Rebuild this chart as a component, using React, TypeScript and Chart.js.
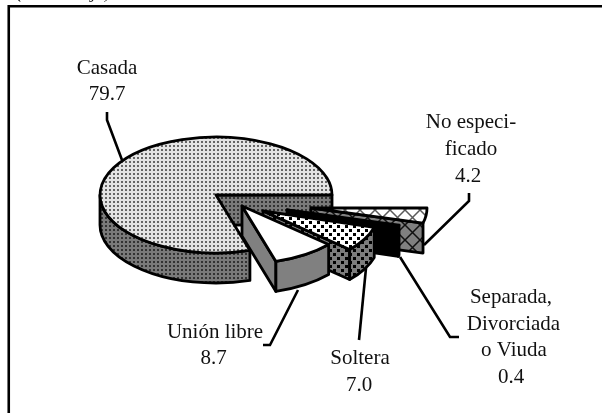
import React, { useEffect, useRef } from "react";
import { Chart, registerables } from "chart.js";

Chart.register(...registerables);

const categories = ["Casada", "No especificado", "Separada, Divorciada o Viuda", "Soltera", "Unión libre"];
const values = [79.7, 4.2, 0.4, 7.0, 8.7];
const valueLabels = ["79.7", "4.2", "0.4", "7.0", "8.7"];
const labelLines = [["Casada"], ["No especi-", "ficado"], ["Separada,", "Divorciada", "o Viuda"], ["Soltera"], ["Unión libre"]];

// layout of the drawing, in canvas pixels
const labelCentres = [[107, 107], [471, 471, 468], [511, 513.5, 514, 511], [360, 359], [215, 213.5]];
const labelBaselines = [74, 128, 303, 364, 338];
const labelLeading = [26, 27, 26.6, 27, 26];
const leaders = [
  [[107, 112], [107, 120], [122, 160]],
  [[469, 193], [469, 201], [424, 245]],
  [[400, 257], [450, 337], [459, 337]],
  [[366, 268], [359, 340]],
  [[298, 290], [270, 345], [263, 345]],
];
const explodeX = [0, 95, 71, 47, 26];
const explodeY = [0, 13, 15, 16, 11];
const TILT = 0.5;
const DEPTH = 30;
const RADIUS = 116;

type Tile = (c: CanvasRenderingContext2D) => void;

function tile(ctx: CanvasRenderingContext2D, w: number, h: number, draw: Tile) {
  const off = document.createElement("canvas");
  off.width = w;
  off.height = h;
  draw(off.getContext("2d")!);
  return ctx.createPattern(off, "repeat")!;
}

function dots(c: CanvasRenderingContext2D, w: number, h: number, bg: string, fg: string, pts: number[][], s: number) {
  c.fillStyle = bg;
  c.fillRect(0, 0, w, h);
  c.fillStyle = fg;
  pts.forEach(([x, y]) => c.fillRect(x, y, s, s));
}

function hatch(c: CanvasRenderingContext2D, n: number, bg: string, fg: string, lw: number) {
  c.fillStyle = bg;
  c.fillRect(0, 0, n, n);
  c.strokeStyle = fg;
  c.lineWidth = lw;
  c.beginPath();
  c.moveTo(-2, -2);
  c.lineTo(n + 2, n + 2);
  c.moveTo(n + 2, -2);
  c.lineTo(-2, n + 2);
  c.stroke();
}

function surfaces(ctx: CanvasRenderingContext2D) {
  const casadaTop = tile(ctx, 4, 4, (c) => dots(c, 4, 4, "#e4e4e4", "#666666", [[1, 1]], 2));
  const casadaSide = tile(ctx, 4, 4, (c) => dots(c, 4, 4, "#7a7a7a", "#333333", [[1, 1]], 2));
  const solteraTop = tile(ctx, 8, 8, (c) => dots(c, 8, 8, "#ffffff", "#000000", [[1, 1], [5, 5]], 3));
  const solteraSide = tile(ctx, 8, 8, (c) => dots(c, 8, 8, "#7c7c7c", "#000000", [[1, 1], [5, 5]], 3));
  const otroTop = tile(ctx, 15, 15, (c) => hatch(c, 15, "#ffffff", "#5a5a5a", 1.5));
  const otroSide = tile(ctx, 15, 15, (c) => hatch(c, 15, "#808080", "#111111", 1.5));
  return {
    top: [casadaTop, otroTop, "#000000", solteraTop, "#ffffff"],
    side: [casadaSide, otroSide, "#000000", solteraSide, "#808080"],
  };
}

const tiltedPie = {
  id: "tiltedPie",
  beforeDatasetsDraw(chart: Chart) {
    const ctx = chart.ctx;
    const fills = surfaces(ctx);
    const arcs = chart.getDatasetMeta(0).data as any[];
    ctx.save();
    ctx.strokeStyle = "#000000";
    ctx.lineWidth = 2.8;
    ctx.lineJoin = "round";
    arcs.forEach((arc, i) => {
      let a0 = arc.startAngle as number;
      let a1 = arc.endAngle as number;
      while (a0 >= 2 * Math.PI - 1e-6) {
        a0 -= 2 * Math.PI;
        a1 -= 2 * Math.PI;
      }
      const rx = arc.outerRadius as number;
      const ry = rx * TILT;
      const cx = (arc.x as number) + explodeX[i];
      const cy = (arc.y as number) + explodeY[i];
      const edge = (a: number, drop: number): [number, number] => [cx + rx * Math.cos(a), cy + ry * Math.sin(a) + drop];

      // the wall on the clockwise cut, when it faces the viewer
      if (Math.cos(a1) > 0) {
        ctx.beginPath();
        ctx.moveTo(cx, cy);
        ctx.lineTo(...edge(a1, 0));
        ctx.lineTo(...edge(a1, DEPTH));
        ctx.lineTo(cx, cy + DEPTH);
        ctx.closePath();
        ctx.fillStyle = fills.side[i];
        ctx.fill();
        ctx.stroke();
      }
      // the rim, only over the front half of the ellipse
      const s = Math.max(a0, 0);
      const e = Math.min(a1, Math.PI);
      if (e > s) {
        ctx.beginPath();
        ctx.ellipse(cx, cy, rx, ry, 0, s, e);
        ctx.ellipse(cx, cy + DEPTH, rx, ry, 0, e, s, true);
        ctx.closePath();
        ctx.fillStyle = fills.side[i];
        ctx.fill();
        ctx.stroke();
      }
      // the top face
      ctx.beginPath();
      ctx.moveTo(cx, cy);
      ctx.ellipse(cx, cy, rx, ry, 0, a0, a1);
      ctx.closePath();
      ctx.fillStyle = fills.top[i];
      ctx.fill();
      ctx.stroke();
    });
    ctx.restore();
    return false;
  },
  afterDraw(chart: Chart) {
    const ctx = chart.ctx;
    ctx.save();
    // frame, cropped on the right and at the bottom
    ctx.strokeStyle = "#000000";
    ctx.lineWidth = 2.6;
    ctx.beginPath();
    ctx.moveTo(8.75, 413);
    ctx.lineTo(8.75, 6.25);
    ctx.lineTo(602, 6.25);
    ctx.stroke();
    // leader lines
    leaders.forEach((pts) => {
      ctx.beginPath();
      pts.forEach(([x, y], k) => (k ? ctx.lineTo(x, y) : ctx.moveTo(x, y)));
      ctx.stroke();
    });
    // labels
    ctx.fillStyle = "#111111";
    ctx.textAlign = "center";
    ctx.textBaseline = "alphabetic";
    ctx.font = '21px "Liberation Serif"';
    labelLines.forEach((lines, i) => {
      [...lines, valueLabels[i]].forEach((t, k) => {
        ctx.fillText(t, labelCentres[i][k], labelBaselines[i] + k * labelLeading[i]);
      });
    });
    // heading, cut by the top of the picture
    ctx.textAlign = "left";
    ctx.font = 'italic 19px "Liberation Serif"';
    ctx.fillText("(Porcentaje)", 16, -2);
    ctx.restore();
  },
};

export default function App() {
  const ref = useRef<HTMLCanvasElement>(null);
  useEffect(() => {
    const chart = new Chart(ref.current!, {
      type: "pie",
      data: {
        labels: categories,
        datasets: [{ data: values, radius: RADIUS, borderWidth: 0 } as any],
      },
      options: {
        animation: false,
        responsive: false,
        rotation: 163,
        layout: { padding: { left: 0, top: 0, right: 170, bottom: 23 } },
        plugins: { legend: { display: false }, tooltip: { enabled: false } },
      },
      plugins: [tiltedPie as any],
    });
    return () => chart.destroy();
  }, []);
  return (
    <div style={{ position: "absolute", left: 0, top: 0, width: 602, height: 413, background: "#fff" }}>
      <canvas ref={ref} width={602} height={413} style={{ display: "block" }} />
    </div>
  );
}
